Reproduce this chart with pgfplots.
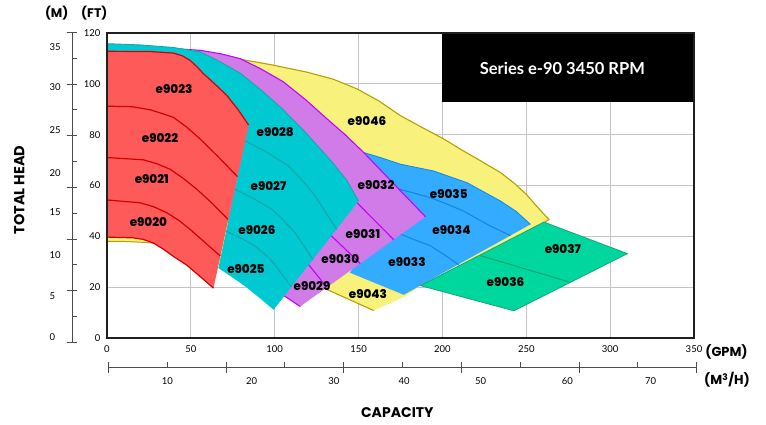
\documentclass[border=0pt]{standalone}
\usepackage{fontspec}
\setmainfont{Lato}
\newfontfamily\pop{Poppins}
\IfFontExistsTF{Poppins ExtraBold}{\newfontfamily\popx{Poppins ExtraBold}}{\newfontfamily\popx{Poppins}[UprightFont=* Bold]}
\usepackage{pgfplots}
\pgfplotsset{compat=1.18}
\definecolor{cred}{HTML}{FF5A5A}
\definecolor{lred}{HTML}{D40000}
\definecolor{ccyan}{HTML}{00C9D2}
\definecolor{lcyan}{HTML}{18A6A8}
\definecolor{cpurp}{HTML}{D07BE8}
\definecolor{lpurp}{HTML}{C800FF}
\definecolor{cyel}{HTML}{F8F27C}
\definecolor{lyel}{HTML}{B5A000}
\definecolor{cblue}{HTML}{33ABFF}
\definecolor{lblue}{HTML}{1487E6}
\definecolor{cgreen}{HTML}{00D79E}
\definecolor{lgreen}{HTML}{16A673}
\definecolor{cgrid}{RGB}{195,195,202}
\begin{document}
\begin{tikzpicture}[x=1pt,y=1pt]
\useasboundingbox (0,0) rectangle (766,425);
\begin{axis}[at={(107pt,87pt)}, anchor=south west, scale only axis,
  width=587pt, height=305pt,
  xmin=0, xmax=350, ymin=0, ymax=120,
  xtick={0,50,...,350}, ytick={0,20,...,120},
  grid=major, grid style={draw=cgrid, line width=1.1pt},
  major tick length=0pt, axis line style={draw=none},
  clip mode=individual, no marks,
  /pgf/number format/assume math mode=true,
  tick label style={font=\fontsize{9.5}{11}\selectfont},
  xticklabel style={yshift=-4pt},
  yticklabel style={xshift=-3pt}]
% yellow (e9046 / e9043)
\addplot[fill=cyel, draw=none] coordinates {(0,114)(40,113)(77.4,109.9)(98,107.5)(119.2,104.6)(135,101.8)(149.1,98)(162,93.3)(174.9,87.5)(188,82.8)(200.8,78.3)(210.7,74.3)(222,70)(234.6,65.1)(243,60.8)(250,56.5)(256,52)(263.5,46.6)(258,44.5)(186.9,20.6)(177.5,16.3)(159,10.8)(130.1,19.4)(115.2,13.6)(106.3,18)(92.4,18.5)(82.4,22.5)(70,27.5)(66,29)(60,30.5)(45,32.6)(39.6,34)(33.5,35.8)(28,37.3)(20,37.7)(10,38)(0,38)} -- cycle;
\addplot[draw=lyel, line width=1.1pt] coordinates {(60,111.5)(77.4,109.9)(98,107.5)(119.2,104.6)(135,101.8)(149.1,98)(162,93.3)(174.9,87.5)(188,82.8)(200.8,78.3)(210.7,74.3)(222,70)(234.6,65.1)(243,60.8)(250,56.5)(256,52)(263.5,46.6)(261,45.6)};
\addplot[draw=lyel, line width=1.1pt] coordinates {(130.1,19.4)(159,10.8)};
\addplot[draw=lyel, line width=1pt] coordinates {(0,38)(10,38)(20,37.7)(28,37.3)};
% blue (e9033-e9035)
\addplot[fill=cblue, draw=none] coordinates {(153,73)(164,70.8)(174.9,68.4)(194.8,65.7)(214.7,61.1)(234.6,53.9)(244,49.8)(252.5,44.7)(176.9,17)(144.8,25.7)(170,50)} -- cycle;
\addplot[draw=lblue, line width=0.8pt] coordinates {(153,73)(164,70.8)(174.9,68.4)(194.8,65.7)(214.7,61.1)(234.6,53.9)(244,49.8)(252.5,44.7)};
\addplot[draw=lblue, line width=1.1pt] coordinates {(170,60.6)(173,58.8)(182,57.2)(192.8,55.2)(202,52.9)(212.7,49.9)(221,46.8)(228.7,44)(240.6,40.3)};
\addplot[draw=lblue, line width=1.1pt] coordinates {(170,42.2)(174.9,40.9)(182,39)(192.8,36.3)(201,32.8)(209.7,28.8)};
% purple (e9029-e9032)
\addplot[fill=cpurp, draw=none] coordinates {(0,114)(40,113.8)(55.5,113.2)(68,111.8)(79.4,109.9)(92,105.8)(105.1,100.8)(118,94)(131.2,86.2)(142,80)(153,73)(189.9,47.7)(115.2,12.4)(106.3,16.3)(100,20)(60,60)(0,100)} -- cycle;
\addplot[draw=lpurp, line width=1.1pt] coordinates {(0,114)(40,113.8)(55.5,113.2)(68,111.8)(79.4,109.9)(92,105.8)(105.1,100.8)(118,94)(131.2,86.2)(142,80)(153,73)(189.9,47.7)};
\addplot[draw=lpurp, line width=1.1pt] coordinates {(104.5,17.1)(115.2,12.4)};
\addplot[draw=lpurp, line width=1.1pt] coordinates {(147,54.6)(170.9,38.7)};
\addplot[draw=lpurp, line width=1.1pt] coordinates {(130,42.6)(151,29.3)};
\addplot[draw=lpurp, line width=1.1pt] coordinates {(117,31.5)(131,20)};
% cyan (e9025-e9028)
\addplot[fill=ccyan, draw=none] coordinates {(0,115.8)(20,115.3)(39.6,114.3)(55.5,112.6)(68,108.5)(79.4,104.2)(92,97.5)(104.3,90.3)(118.2,81)(134.1,69.3)(143,62)(150,53.9)(99.3,11.1)(92.4,15)(82.4,20.3)(74,24.2)(66.4,27.5)(84.4,83.8)(40,95)(0,100)} -- cycle;
\addplot[draw=lcyan, line width=0.9pt] coordinates {(0,115.8)(20,115.3)(39.6,114.3)(55.5,112.6)(68,108.5)(79.4,104.2)(92,97.5)(104.3,90.3)(118.2,81)(134.1,69.3)(143,62)(150,53.9)};
\addplot[draw=lcyan, line width=1.1pt] coordinates {(82.4,77.6)(95,73.2)(108.2,67.7)(116,62.3)(124.2,55.8)(137,42.7)};
\addplot[draw=lcyan, line width=1.1pt] coordinates {(76.2,58.5)(87,55)(98.3,50.6)(105,46.5)(112.2,41.4)(122.8,30.8)};
\addplot[draw=lcyan, line width=1.1pt] coordinates {(71,42)(80,39.3)(88.4,36.1)(94,33)(99.3,29.5)(109.9,20.2)};
% red (e9020-e9023)
\addplot[fill=cred, draw=none] coordinates {(0,112.8)(25.7,112.7)(39.6,112.1)(45,111)(49.6,109.2)(53.5,106.8)(57.5,104)(64.5,99.8)(71.5,95.4)(78,90)(84.4,83.8)(63.5,19.6)(55.5,24.2)(47.5,28.7)(39.6,32.1)(33.5,35)(27.6,37.4)(21.5,38.8)(15.7,39.4)(0,39.7)} -- cycle;
\addplot[draw=lred, line width=1.2pt] coordinates {(0,112.8)(25.7,112.7)(39.6,112.1)(45,111)(49.6,109.2)(53.5,106.8)(57.5,104)(64.5,99.8)(71.5,95.4)(78,90)(84.4,83.8)};
\addplot[draw=lred, line width=1.2pt] coordinates {(63.5,19.6)(55.5,24.2)(47.5,28.7)(39.6,32.1)(33.5,35)(27.6,37.4)(21.5,38.8)(15.7,39.4)(0,39.7)};
\addplot[draw=lred, line width=1.2pt] coordinates {(0,91.2)(15,91)(25.7,89.8)(33,88.3)(39.6,86.8)(47.5,83)(55.5,78.3)(66,71.5)(77.8,63.5)};
\addplot[draw=lred, line width=1.2pt] coordinates {(0,71)(21.7,70.1)(30,68.5)(37.6,66.4)(45.5,62.8)(53.6,58.5)(63,52.8)(72.3,46.6)};
\addplot[draw=lred, line width=1.2pt] coordinates {(0,54.3)(19.7,53.2)(28,51.6)(35.6,49.3)(43,46.2)(49.6,42.7)(58,37.8)(67.5,32.3)};
% green (e9036-e9037)
\addplot[fill=cgreen, draw=lgreen, line width=0.8pt] coordinates {(260.5,45.6)(310.3,33.2)(242.6,10.7)(186.9,20.6)} -- cycle;
\addplot[draw=lgreen, line width=1.1pt] coordinates {(222.7,32.4)(276.4,21.9)};
% labels
\begin{scope}[every node/.style={font=\popx\fontsize{12}{12}\selectfont, inner sep=0pt}]
\node at (axis cs:40,98) {e9023};
\node at (axis cs:31.6,78.7) {e9022};
\node at (axis cs:26.7,62.7) {e9021};
\node at (axis cs:24.7,45.7) {e9020};
\node at (axis cs:100.3,80.9) {e9028};
\node at (axis cs:96.3,59.6) {e9027};
\node at (axis cs:89.4,42.3) {e9026};
\node at (axis cs:82.8,27.2) {e9025};
\node at (axis cs:155,85.5) {e9046};
\node at (axis cs:160.4,60.1) {e9032};
\node at (axis cs:152.6,40.7) {e9031};
\node at (axis cs:139.1,31.2) {e9030};
\node at (axis cs:122.2,20.6) {e9029};
\node at (axis cs:155.6,17.4) {e9043};
\node at (axis cs:203.8,56.5) {e9035};
\node at (axis cs:205.4,42.3) {e9034};
\node at (axis cs:178.9,29.9) {e9033};
\node at (axis cs:237.6,22) {e9036};
\node at (axis cs:271.8,34.8) {e9037};
\end{scope}
% title box
\fill[black] (axis cs:200,92.8) rectangle (axis cs:350,120);
\node[text=white, font=\bfseries\fontsize{16.5}{18}\selectfont] at (axis cs:271.5,105.9) {Series e-90 3450 RPM};
% frame
\draw[line width=2.6pt, black!88] (rel axis cs:0,0) rectangle (rel axis cs:1,1);
\end{axis}
% metre ruler
\begin{axis}[at={(72pt,82.7pt)}, anchor=south west, scale only axis, clip=false,
  width=50pt, height=310pt, xmin=0, xmax=1, ymin=0, ymax=120,
  hide x axis, axis y line=left, y axis line style={-, line width=0.8pt, draw=black!70},
  ytick={0,20,...,120}, minor ytick={10,30,...,110}, yticklabels={},
  tick align=inside, major tick length=10.6pt, minor tick length=5.3pt,
  major tick style={xshift=-5.3pt}, tick style={line width=0.8pt, draw=black!70}]
\addplot[draw=none] coordinates {(0,0)(1,120)};
\begin{scope}[every node/.style={anchor=west, xshift=-22.5pt, inner sep=0pt, font=\fontsize{9.5}{11}\selectfont}]
\node at (axis cs:0,114.4) {35};
\node at (axis cs:0,98.7) {30};
\node at (axis cs:0,82.1) {25};
\node at (axis cs:0,65.4) {20};
\node at (axis cs:0,50.2) {15};
\node at (axis cs:0,33.8) {10};
\node at (axis cs:0,17.7) {5};
\node at (axis cs:0,2.1) {0};
\end{scope}
\end{axis}
% m3/h ruler
\begin{axis}[at={(108.3pt,57.3pt)}, anchor=south west, scale only axis, clip=false,
  width=588.4pt, height=40pt, xmin=0, xmax=350, ymin=0, ymax=1,
  hide y axis, axis x line=bottom, x axis line style={-, line width=0.8pt, draw=black!70},
  xtick={0,70,...,350}, minor xtick={35,105,...,315}, xticklabels={},
  tick align=inside, major tick length=10.7pt, minor tick length=5.6pt,
  major tick style={yshift=-5.3pt}, tick style={line width=0.8pt, draw=black!70}]
\addplot[draw=none] coordinates {(0,0)(350,1)};
\begin{scope}[every node/.style={yshift=-13pt, inner sep=0pt, font=\fontsize{9.5}{11}\selectfont}]
\node at (axis cs:35.2,0) {10};
\node at (axis cs:85.3,0) {20};
\node at (axis cs:134.2,0) {30};
\node at (axis cs:175.9,0) {40};
\node at (axis cs:221.5,0) {50};
\node at (axis cs:273.1,0) {60};
\node at (axis cs:322.6,0) {70};
\end{scope}
\end{axis}
% axis titles
\node[font=\pop\bfseries\fontsize{12.5}{13}\selectfont] at (56.7,411.7) {(M)};
\node[font=\pop\bfseries\fontsize{12.5}{13}\selectfont] at (94.3,411.7) {(FT)};
\node[rotate=90, font=\pop\bfseries\fontsize{14.5}{15}\selectfont] at (19.2,235) {TOTAL HEAD};
\node[font=\pop\bfseries\fontsize{14}{15}\selectfont] at (397.3,12) {CAPACITY};
\node[font=\pop\bfseries\fontsize{13}{14}\selectfont] at (726.5,73) {(GPM)};
\node[font=\pop\bfseries\fontsize{13}{14}\selectfont] at (727,45) {(M\textsuperscript{3}/H)};
\end{tikzpicture}
\end{document}
